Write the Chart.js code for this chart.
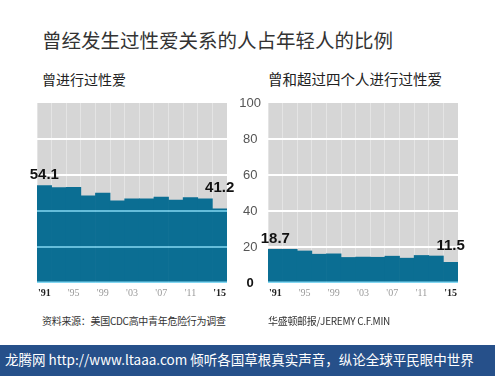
<!DOCTYPE html>
<html>
<head>
<meta charset="utf-8">
<script src="https://cdn.jsdelivr.net/npm/chart.js@4.4.1/dist/chart.umd.min.js"></script>
<style>
  html, body { margin:0; padding:0; background:#fff; }
  body { width:495px; height:376px; position:relative; overflow:hidden; font-family:"Noto Sans CJK SC","Noto Sans",sans-serif; }
  .t { position:absolute; white-space:nowrap; line-height:1; }
  #title { left:42px; top:30px; font-size:19.5px; color:#333; }
  #sub1 { left:42px; top:72px; font-size:14px; color:#222; }
  #sub2 { left:268px; top:72px; font-size:14.5px; color:#222; }
  #src1 { left:42px; top:316px; font-size:10px; color:#333; letter-spacing:-0.3px; }
  #src2 { left:268px; top:316px; font-size:10px; color:#333; letter-spacing:-0.3px; }
  #banner { position:absolute; left:0; top:345px; width:495px; height:31px; background:#26508a; }
  #bannerText { left:5px; top:353px; font-size:13.5px; color:#fff; }
  canvas { position:absolute; left:0; top:0; }
  #c1wrap { position:absolute; left:0; top:90px; width:240px; height:215px; }
  #c2wrap { position:absolute; left:230px; top:90px; width:265px; height:215px; }
</style>
</head>
<body>
<div class="t" id="title">曾经发生过性爱关系的人占年轻人的比例</div>
<div class="t" id="sub1">曾进行过性爱</div>
<div class="t" id="sub2">曾和超过四个人进行过性爱</div>
<div id="c1wrap"><canvas id="c1" width="240" height="215"></canvas></div>
<div id="c2wrap"><canvas id="c2" width="265" height="215"></canvas></div>
<div class="t" id="src1">资料来源：美国CDC高中青年危险行为调查</div>
<div class="t" id="src2">华盛顿邮报/JEREMY C.F.MIN</div>
<div id="banner"></div>
<div class="t" id="bannerText">龙腾网 http://www.ltaaa.com 倾听各国草根真实声音，纵论全球平民眼中世界</div>
<script>
const categories = ['1991','1993','1995','1997','1999','2001','2003','2005','2007','2009','2011','2013','2015'];
const xTickLabels = ["'91","","'95","","'99","","'03","","'07","","'11","","'15"];
const everHadSex = [54.1,53.0,53.1,48.4,49.9,45.6,46.7,46.8,47.8,46.0,47.4,46.8,41.2];
const fourOrMore = [18.7,18.7,17.8,16.0,16.2,14.2,14.4,14.3,14.9,13.8,15.3,15.0,11.5];
const yGridValues = [0,20,40,60,80];

const BLUE = '#0b6e93';
const GRAY = '#d6d6d6';

const bgPlugin = {
  id: 'bg',
  beforeDraw(chart) {
    const {ctx, chartArea:a} = chart;
    ctx.save();
    ctx.fillStyle = GRAY;
    ctx.fillRect(a.left, a.top, a.right - a.left, a.bottom - a.top);
    ctx.restore();
  }
};

const overGridPlugin = {
  id: 'overGrid',
  afterDatasetsDraw(chart) {
    const {ctx, chartArea:a, scales} = chart;
    const y = scales.y;
    ctx.save();
    ctx.globalCompositeOperation = 'lighter';
    ctx.strokeStyle = 'rgb(120,105,95)';
    ctx.lineWidth = 1.5;
    yGridValues.forEach(v => {
      const py = Math.round(y.getPixelForValue(v)) - (v === 0 ? 0.75 : 0);
      ctx.beginPath();
      ctx.moveTo(a.left, py);
      ctx.lineTo(a.right, py);
      ctx.stroke();
    });
    ctx.restore();
  }
};

const valueLabelPlugin = {
  id: 'valueLabels',
  afterDatasetsDraw(chart) {
    const {ctx, scales} = chart;
    const data = chart.data.datasets[0].data;
    const n = data.length;
    ctx.save();
    ctx.font = 'bold 15px "Liberation Sans", Arial, sans-serif';
    ctx.fillStyle = '#111';
    ctx.textAlign = 'center';
    ctx.textBaseline = 'bottom';
    [[0, 1], [n - 1, n - 2]].forEach(([i, nb]) => {
      const x = scales.x.getPixelForValue(i);
      const top = scales.y.getPixelForValue(Math.max(data[i], data[nb]));
      ctx.fillText(data[i].toFixed(1), x, top - 3);
    });
    ctx.restore();
  }
};

function noPad(s) { s.paddingTop = 0; s.paddingBottom = 0; s.paddingLeft = 0; s.paddingRight = 0; }

function makeChart(id, values, showY, padding) {
  return new Chart(document.getElementById(id), {
    type: 'bar',
    data: {
      labels: categories,
      datasets: [{
        data: values,
        backgroundColor: BLUE,
        borderWidth: 0,
        barPercentage: 1.0,
        categoryPercentage: 1.0
      }]
    },
    options: {
      responsive: false,
      animation: false,
      layout: { padding },
      plugins: { legend: { display: false }, tooltip: { enabled: false } },
      scales: {
        x: {
          afterFit(s) { s.height = 20; noPad(s); },
          grid: { display: true, color: 'rgba(255,255,255,0.35)', drawTicks: false, offset: true },
          border: { display: false },
          ticks: {
            autoSkip: false,
            maxRotation: 0,
            padding: 4,
            callback: (v, i) => xTickLabels[i],
            color: (c) => (c.index === 0 || c.index === categories.length - 1) ? '#222' : '#9a9a9a',
            font: (c) => ({ family: '"Liberation Serif", "DejaVu Serif", serif', size: 10,
              weight: (c.index === 0 || c.index === categories.length - 1) ? 'bold' : 'normal' })
          }
        },
        y: {
          display: showY,
          min: 0, max: 100,
          afterFit(s) { s.width = showY ? 38 : 0; noPad(s); },
          grid: { display: false, drawTicks: false },
          border: { display: false },
          ticks: {
            stepSize: 20,
            crossAlign: 'center',
            padding: 7,
            color: (c) => c.tick && c.tick.value === 0 ? '#111' : '#555',
            font: (c) => ({ family: '"Liberation Sans", Arial, sans-serif', size: 13,
              weight: (c.tick && c.tick.value === 0) ? 'bold' : 'normal' })
          }
        }
      }
    },
    plugins: [bgPlugin, overGridPlugin, valueLabelPlugin]
  });
}

makeChart('c1', everHadSex, false, { left: 37, right: 13, top: 13, bottom: 2 });
makeChart('c2', fourOrMore, true, { left: 0, right: 37, top: 13, bottom: 2 });
</script>
</body>
</html>
